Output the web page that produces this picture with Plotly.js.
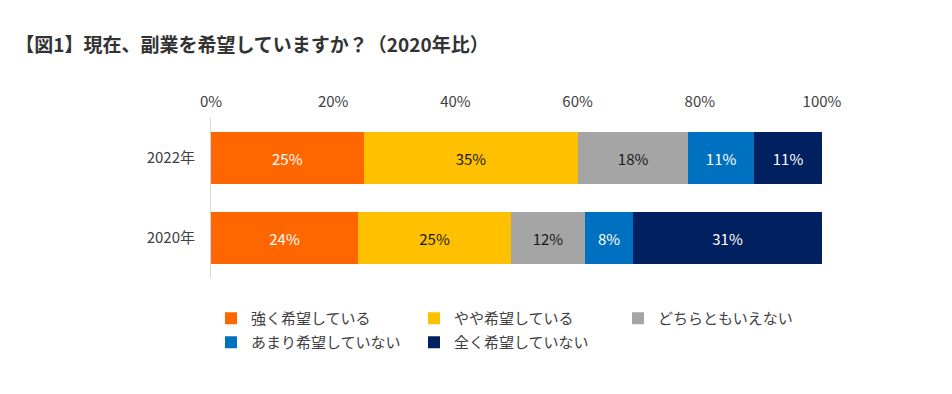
<!DOCTYPE html>
<html><head><meta charset="utf-8">
<script src="https://cdn.plot.ly/plotly-3.0.1.min.js"></script>
<style>body{margin:0;background:#fff}#c{width:952px;height:394px}</style>
</head><body><div id="c"></div>
<script>
const years = ['2022年', '2020年'];
const seriesNames = ['強く希望している', 'やや希望している', 'どちらともいえない', 'あまり希望していない', '全く希望していない'];
const strong = [25.0, 24.1];
const somewhat = [35.1, 25.0];
const neutral = [18.0, 12.1];
const notMuch = [10.8, 7.9];
const notAtAll = [11.1, 30.9];
const xTicks = [0, 20, 40, 60, 80, 100];

const colors = ['#FF6600', '#FFC000', '#A5A5A5', '#0070C0', '#002060'];
const textColors = ['#ffffff', '#1a1a1a', '#1a1a1a', '#ffffff', '#ffffff'];
const legendIds = ['legend', 'legend2', 'legend3', 'legend4', 'legend5'];
const legendX = [0, 0.3322, 0.6661, 0, 0.3322];
const legendY = [-0.15, -0.15, -0.15, -0.30, -0.30];
const values = [strong, somewhat, neutral, notMuch, notAtAll];
const font = '"Noto Sans CJK JP", "Noto Sans", sans-serif';

const traces = values.map((v, i) => ({
  type: 'bar', orientation: 'h', name: seriesNames[i],
  x: v, y: years,
  marker: {color: colors[i]},
  text: v.map(d => Math.round(d) + '%'),
  textposition: 'inside', insidetextanchor: 'middle',
  textfont: {color: textColors[i], size: 15, family: font},
  legend: legendIds[i], hoverinfo: 'skip'
}));

const layout = {
  width: 952, height: 394,
  margin: {l: 211, r: 130, t: 118, b: 116},
  barmode: 'stack', bargap: 0.35,
  paper_bgcolor: '#fff', plot_bgcolor: '#fff',
  font: {family: font, size: 14, color: '#404040'},
  title: {text: '<b>【図1】現在、副業を希望していますか？（2020年比）</b>',
    font: {family: font, size: 19, color: '#333333'},
    xref: 'container', x: 0.016, xanchor: 'left', yref: 'container', y: 0.885, yanchor: 'middle'},
  xaxis: {side: 'top', range: [0, 100], tickvals: xTicks, ticktext: xTicks.map(t => t + '%'),
    showgrid: false, zeroline: false, showline: false, ticks: '', ticklabelstandoff: 7,
    tickfont: {size: 15, color: '#404040'}, fixedrange: true},
  yaxis: {type: 'category', autorange: 'reversed', showline: true, linecolor: '#d9d9d9', linewidth: 1,
    showgrid: false, zeroline: false, ticks: '', ticklabelstandoff: 12,
    tickfont: {size: 15, color: '#404040'}, fixedrange: true},
  showlegend: true
};
legendIds.forEach((id, i) => {
  layout[id] = {orientation: 'h', x: legendX[i], xanchor: 'left', y: legendY[i], yanchor: 'top',
    font: {size: 15, color: '#404040', family: font}, bgcolor: 'rgba(0,0,0,0)'};
});
Plotly.newPlot('c', traces, layout, {displayModeBar: false, staticPlot: true});
</script></body></html>
